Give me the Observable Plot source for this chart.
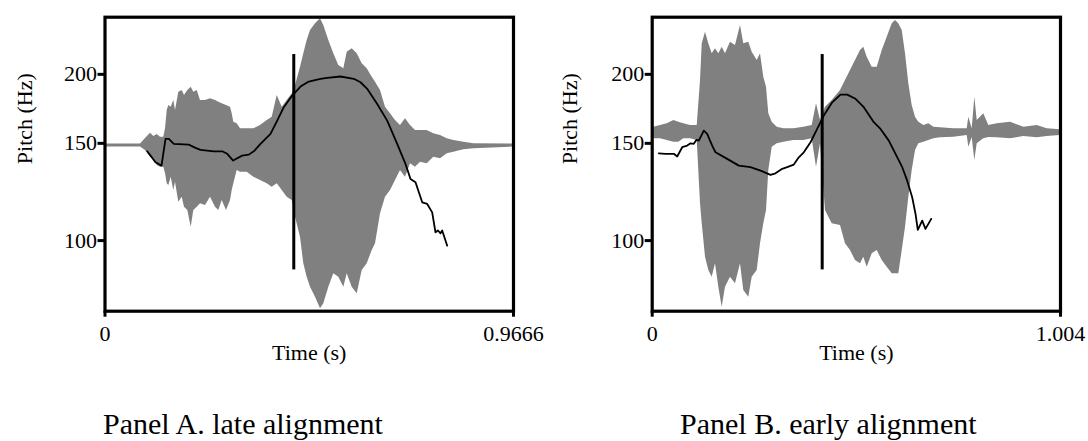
<!DOCTYPE html>
<html>
<head>
<meta charset="utf-8">
<script src="https://cdn.jsdelivr.net/npm/d3@7"></script>
<script src="https://cdn.jsdelivr.net/npm/@observablehq/plot@0.6"></script>
<style>
  body { margin: 0; background: white; }
  #wrap { position: relative; width: 1088px; height: 441px; overflow: hidden; font-family: "Liberation Serif", "Times New Roman", serif; }
  .layer { position: absolute; top: 0; }
  .caption { position: absolute; top: 409px; font-size: 30px; line-height: 30px; color: #000; white-space: nowrap; }
</style>
</head>
<body>
<div id="wrap"></div>
<script>
// ---------- Panel A (late alignment) ----------
const durationA = 0.9666;
const pitchTimeA = [0.0999,0.1077,0.1195,0.1337,0.1432,0.1510,0.1628,0.1983,0.2141,0.2260,0.2574,0.2773,0.2892,0.3033,0.3128,0.3246,0.3403,0.3537,0.3679,0.3916,0.4075,0.4231,0.4430,0.4626,0.4822,0.5099,0.5258,0.5572,0.5887,0.6046,0.6204,0.6441,0.6677,0.6914,0.7110,0.7229,0.7347,0.7506,0.7624,0.7742,0.7820,0.7875,0.7939,0.7979,0.8097];
const pitchHzA = [145.1,142.5,138.6,136.7,152.8,152.8,149.7,149.2,147.2,146.0,145.1,145.1,143.6,139.6,141.0,142.5,143.1,145.5,149.7,156.0,164.9,174.4,183.1,190.1,194.1,196.3,197.1,198.2,196.3,193.5,188.3,176.8,164.9,149.7,137.7,129.3,127.5,117.3,116.5,112.5,103.5,104.3,103.1,104.3,97.9];
const waveTimeA = [0.000,0.0840,0.0958,0.1077,0.1155,0.1235,0.1313,0.1391,0.1432,0.1472,0.1510,0.1566,0.1628,0.1668,0.1746,0.1827,0.1881,0.1959,0.2040,0.2101,0.2182,0.2260,0.2378,0.2496,0.2615,0.2693,0.2773,0.2875,0.2970,0.3010,0.3048,0.3128,0.3206,0.3365,0.3521,0.3679,0.3838,0.3956,0.4075,0.4193,0.4311,0.4430,0.4508,0.4626,0.4704,0.4784,0.4863,0.4981,0.5099,0.5177,0.5296,0.5414,0.5532,0.5651,0.5731,0.5849,0.5968,0.6086,0.6204,0.6323,0.6401,0.6519,0.6637,0.6756,0.6874,0.6992,0.7110,0.7229,0.7347,0.7465,0.7624,0.7780,0.7939,0.8097,0.8253,0.8490,0.8727,0.9666];
const waveHighA = [0.137,0.137,0.175,0.211,0.188,0.202,0.184,0.184,0.241,0.365,0.399,0.388,0.433,0.365,0.490,0.501,0.467,0.501,0.524,0.490,0.501,0.433,0.433,0.445,0.433,0.422,0.411,0.399,0.388,0.343,0.286,0.275,0.241,0.241,0.241,0.263,0.297,0.320,0.467,0.388,0.433,0.479,0.535,0.660,0.751,0.842,0.910,0.955,0.989,0.944,0.842,0.751,0.671,0.649,0.762,0.785,0.751,0.683,0.649,0.592,0.558,0.501,0.388,0.343,0.297,0.263,0.309,0.263,0.229,0.229,0.229,0.207,0.195,0.173,0.161,0.150,0.139,0.137];
const waveLowA = [0.117,0.117,0.093,0.048,0.039,-0.009,-0.020,-0.020,-0.063,-0.133,-0.145,-0.088,-0.179,-0.122,-0.259,-0.224,-0.293,-0.315,-0.429,-0.315,-0.293,-0.269,-0.281,-0.224,-0.293,-0.315,-0.247,-0.315,-0.247,-0.179,-0.133,-0.043,-0.054,-0.054,-0.088,-0.111,-0.133,-0.156,-0.133,-0.179,-0.224,-0.247,-0.361,-0.497,-0.678,-0.769,-0.837,-0.905,-0.984,-0.950,-0.837,-0.746,-0.769,-0.837,-0.746,-0.837,-0.882,-0.723,-0.678,-0.587,-0.542,-0.337,-0.224,-0.179,-0.111,-0.043,-0.088,0.003,-0.020,0.014,0.003,0.048,0.037,0.071,0.082,0.098,0.105,0.117];
const alignTimeA = [0.4467];

// ---------- Panel B (early alignment) ----------
const durationB = 1.004;
const pitchTimeB = [0.0162,0.0327,0.0531,0.0615,0.0738,0.0861,0.0942,0.1023,0.1089,0.1146,0.1269,0.1352,0.1475,0.1557,0.1844,0.2130,0.2417,0.2663,0.2909,0.3032,0.3197,0.3320,0.3482,0.3605,0.3728,0.3893,0.4057,0.4220,0.4426,0.4630,0.4795,0.4999,0.5203,0.5449,0.5614,0.5818,0.5983,0.6148,0.6270,0.6393,0.6475,0.6531,0.6639,0.6720,0.6861];
const pitchHzB = [143.9,143.6,143.6,142.0,147.6,148.6,150.0,149.7,152.2,151.7,158.2,156.0,148.6,144.5,140.6,136.7,135.8,133.9,131.5,132.4,134.9,135.8,137.3,141.5,144.5,150.7,159.3,168.4,178.0,183.8,183.8,180.6,174.4,163.8,159.3,151.7,143.6,135.8,128.4,119.8,111.8,104.6,108.7,105.0,109.5];
const waveTimeB = [0.000,0.0039,0.0204,0.0369,0.0531,0.0654,0.0777,0.0942,0.1107,0.1188,0.1230,0.1311,0.1392,0.1475,0.1557,0.1638,0.1721,0.1802,0.1925,0.2048,0.2171,0.2252,0.2375,0.2459,0.2582,0.2663,0.2744,0.2811,0.2867,0.2951,0.3074,0.3236,0.3482,0.3728,0.3934,0.4040,0.4139,0.4261,0.4426,0.4630,0.4753,0.4876,0.4999,0.5122,0.5203,0.5287,0.5410,0.5533,0.5656,0.5779,0.5902,0.5983,0.6064,0.6148,0.6229,0.6310,0.6393,0.6475,0.6556,0.6679,0.6802,0.6925,0.7089,0.7416,0.7746,0.7785,0.7869,0.7933,0.7992,0.8154,0.8277,0.8484,0.8811,0.9138,0.9467,0.9713,1.004];
const waveHighB = [0.250,0.252,0.263,0.275,0.297,0.286,0.275,0.263,0.263,0.569,0.819,0.898,0.819,0.751,0.785,0.751,0.796,0.751,0.830,0.808,0.944,0.819,0.830,0.762,0.705,0.751,0.592,0.524,0.343,0.286,0.252,0.241,0.241,0.252,0.263,0.411,0.297,0.388,0.433,0.501,0.569,0.637,0.705,0.773,0.796,0.728,0.660,0.660,0.773,0.864,0.955,0.978,0.955,0.910,0.751,0.547,0.399,0.320,0.286,0.263,0.275,0.252,0.248,0.241,0.241,0.320,0.241,0.456,0.297,0.343,0.263,0.275,0.286,0.252,0.263,0.241,0.234];
const waveLowB = [0.175,0.173,0.173,0.161,0.150,0.150,0.173,0.173,0.161,-0.269,-0.405,-0.633,-0.723,-0.769,-0.678,-0.837,-0.973,-0.837,-0.769,-0.814,-0.678,-0.859,-0.905,-0.769,-0.723,-0.542,-0.405,-0.315,-0.043,0.116,0.139,0.150,0.161,0.161,0.173,-0.020,0.139,-0.315,-0.405,-0.417,-0.542,-0.587,-0.655,-0.678,-0.633,-0.701,-0.610,-0.587,-0.655,-0.701,-0.746,-0.746,-0.746,-0.587,-0.429,-0.224,-0.043,0.093,0.139,0.150,0.161,0.173,0.180,0.184,0.195,0.116,0.182,0.025,0.139,0.173,0.182,0.180,0.173,0.188,0.180,0.188,0.195];
const alignTimeB = [0.4180];

// shared
const alignLowHz = 88.5, alignHighHz = 217.2;
const pitchTicks = [100, 150, 200];
const pitchDomain = [74.5, 253.8];
const ampDomain = [-1, 1];
const captions = ["Panel A. late alignment", "Panel B. early alignment"];

const W = 544, H = 380;
const FONT = "Liberation Serif, Times New Roman, serif";
const textStyle = {fontFamily: FONT, fontSize: 22, fill: "black"};

function panel(opts) {
  const {duration, pT, pHz, wT, wHi, wLo, align, mL, mR, labelDx, caption, capLeft, offset} = opts;
  const margins = {marginLeft: mL, marginRight: mR, marginTop: 16.7, marginBottom: H - 310.7};
  const pitch = pT.map((t, i) => ({t, hz: pHz[i]}));
  const wave = wT.map((t, i) => ({t, hi: wHi[i], lo: wLo[i]}));
  const al = align.map(t => ({t, lo: alignLowHz, hi: alignHighHz}));

  const waveSvg = Plot.plot({
    width: W, height: H, ...margins,
    x: {domain: [0, duration], axis: null},
    y: {domain: ampDomain, axis: null},
    style: {background: "transparent"},
    marks: [
      Plot.areaY(wave, {x: "t", y1: "lo", y2: "hi", fill: "#808080", curve: "linear"})
    ]
  });

  const pitchSvg = Plot.plot({
    width: W, height: H, ...margins,
    x: {domain: [0, duration]},
    y: {type: "log", domain: pitchDomain},
    style: {background: "transparent", fontFamily: FONT, fontSize: "22px", color: "black"},
    marks: [
      Plot.axisY({ticks: pitchTicks, tickFormat: d => String(d), tickSize: 7, tickPadding: 1, strokeWidth: 3, label: null, ...textStyle}),
      Plot.axisX({ticks: [0, duration], tickFormat: d => String(d), tickSize: 6, tickPadding: 8, strokeWidth: 3, label: null, ...textStyle}),
      Plot.ruleX(al, {x: "t", y1: "lo", y2: "hi", stroke: "black", strokeWidth: 3}),
      Plot.line(pitch, {x: "t", y: "hz", stroke: "black", strokeWidth: 1.8}),
      Plot.frame({stroke: "black", strokeWidth: 3.2}),
      Plot.text(["Time (s)"], {frameAnchor: "bottom", dy: 48.3, ...textStyle}),
      Plot.text(["Pitch (Hz)"], {frameAnchor: "left", rotate: -90, dx: labelDx, ...textStyle})
    ]
  });

  const wrap = document.getElementById("wrap");
  for (const svg of [waveSvg, pitchSvg]) {
    svg.classList.add("layer");
    svg.style.left = offset + "px";
    wrap.appendChild(svg);
  }
  const cap = document.createElement("div");
  cap.className = "caption";
  cap.style.left = capLeft + "px";
  cap.textContent = caption;
  wrap.appendChild(cap);
}

panel({duration: durationA, pT: pitchTimeA, pHz: pitchHzA, wT: waveTimeA, wHi: waveHighA, wLo: waveLowA,
  align: alignTimeA, mL: 104.5, mR: W - 513, labelDx: -80, caption: captions[0], capLeft: 103, offset: 0});
panel({duration: durationB, pT: pitchTimeB, pHz: pitchHzB, wT: waveTimeB, wHi: waveHighB, wLo: waveLowB,
  align: alignTimeB, mL: 651.7 - 544, mR: 1088 - 1060, labelDx: -82, caption: captions[1], capLeft: 680, offset: 544});
</script>
</body>
</html>
